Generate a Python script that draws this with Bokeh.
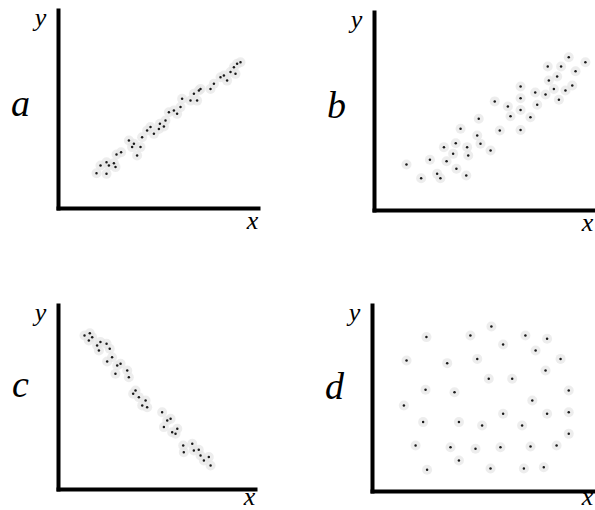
from bokeh.plotting import figure
from bokeh.layouts import row, column
from bokeh.models import Label, Range1d
from bokeh.embed import file_html
from bokeh.resources import INLINE

# ---- data (axis range 0..10) ----
panel_letters = ["a", "b", "c", "d"]
x_axis_name = "x"
y_axis_name = "y"

a_x = [1.90, 2.10, 2.40, 2.52, 2.40, 2.77, 2.90, 3.13, 2.85, 3.52, 3.68, 3.77, 3.93, 4.10,
       4.18, 4.43, 4.60, 4.77, 5.02, 5.07, 5.27, 5.35, 5.52, 5.77, 5.93, 6.10, 6.18, 6.60,
       6.77, 6.93, 7.02, 7.10, 7.60, 7.77, 8.10, 8.27, 8.43, 8.60, 8.77, 8.93, 8.85, 9.10]
a_y = [1.78, 2.17, 2.34, 2.17, 1.75, 2.29, 2.73, 2.84, 2.09, 3.43, 3.10, 3.27, 2.68, 3.10,
       3.60, 3.94, 4.11, 3.77, 4.02, 4.28, 4.14, 4.44, 4.86, 4.95, 4.78, 5.12, 5.54, 5.45,
       5.79, 5.45, 5.96, 6.04, 6.04, 6.30, 6.63, 6.72, 6.46, 6.89, 7.14, 7.31, 6.80, 7.39]

b_x = [1.46, 2.13, 2.53, 2.86, 3.01, 3.17, 3.29, 3.59, 3.74, 3.93, 3.71, 4.19, 4.23, 4.28,
       4.69, 4.76, 4.84, 5.30, 5.49, 5.72, 6.09, 6.21, 6.67, 6.67, 6.67, 6.67, 7.12, 7.34,
       7.43, 7.81, 7.91, 7.96, 8.19, 8.34, 8.42, 8.52, 8.72, 8.87, 9.03, 9.18, 9.63]
b_y = [2.32, 1.63, 2.56, 1.85, 1.63, 3.20, 2.49, 2.86, 2.11, 4.13, 3.40, 1.77, 3.20, 2.78,
       3.79, 4.63, 3.37, 3.03, 5.51, 4.04, 5.25, 4.76, 4.07, 6.26, 5.67, 5.08, 4.71, 5.96,
       5.34, 5.86, 7.27, 6.57, 6.14, 6.77, 5.59, 7.27, 6.06, 7.74, 6.31, 7.03, 7.49]

c_x = [1.32, 1.54, 1.59, 1.71, 1.96, 2.05, 2.13, 2.44, 2.60, 2.72, 2.47, 2.89, 2.98, 3.15,
       3.49, 3.57, 3.79, 3.91, 4.08, 4.25, 4.42, 4.50, 5.26, 5.35, 5.52, 5.69, 5.77, 5.94,
       6.03, 6.33, 6.36, 6.79, 6.87, 7.12, 7.21, 7.38, 7.63, 7.72]
c_y = [8.37, 8.10, 8.49, 8.28, 7.83, 7.55, 8.01, 7.92, 7.65, 7.19, 6.96, 6.29, 6.74, 6.83,
       6.47, 6.10, 5.20, 5.38, 5.02, 4.57, 4.84, 4.47, 4.20, 3.39, 3.75, 3.84, 3.11, 3.03,
       3.30, 2.39, 2.03, 2.48, 2.12, 2.16, 1.85, 1.58, 1.76, 1.30]

d_x = [2.44, 4.43, 5.38, 5.91, 6.92, 7.38, 7.90, 1.54, 3.38, 4.74, 8.51, 7.83, 5.26, 6.32,
       2.40, 3.71, 7.23, 8.88, 1.42, 2.29, 3.91, 4.96, 5.91, 6.77, 7.90, 8.88, 8.88, 1.95,
       3.53, 4.66, 5.79, 7.15, 8.33, 3.91, 2.47, 5.34, 6.85, 7.75]
d_y = [8.30, 8.39, 8.87, 7.90, 8.39, 7.58, 8.21, 7.04, 6.90, 7.13, 7.13, 6.51, 6.06, 6.06,
       5.47, 5.34, 4.89, 5.43, 4.62, 3.73, 3.73, 3.55, 4.18, 3.55, 4.18, 4.26, 3.10, 2.47,
       2.38, 2.30, 2.38, 2.42, 2.47, 1.67, 1.17, 1.24, 1.24, 1.30]

series = [(a_x, a_y), (b_x, b_y), (c_x, c_y), (d_x, d_y)]
axis_span = (0, 10)

# ---- layout: canvas size and margins around the 0..10 axis box ----
# (width, height, left, right, top, bottom)
specs = [
    (300, 275, 58, 42, 10, 67),
    (295, 275, 74, 2, 12, 65),
    (300, 235, 58, 45, 30, 21),
    (295, 235, 72, 2, 30, 19),
]
# x-label vertical offset below the x axis (screen px), per panel
xlab_offsets = [12, 12, 7, 5]

FONT = "Liberation Serif"


def make_panel(letter, xs, ys, spec, xlab_dy):
    w, h, bl, br, bt, bb = spec
    lo, hi = axis_span
    fw = w - bl - br
    fh = h - bt - bb
    ux = fw / (hi - lo)
    uy = fh / (hi - lo)
    p = figure(width=w, height=h, output_backend="svg", toolbar_location=None,
               x_range=Range1d(lo - bl / ux, hi + br / ux),
               y_range=Range1d(lo - bb / uy, hi + bt / uy),
               min_border=0)
    p.outline_line_color = None
    p.grid.visible = False
    p.background_fill_color = "white"
    p.border_fill_color = "white"
    for ax in (p.xaxis, p.yaxis):
        ax.ticker = []
        ax.fixed_location = lo
        ax.bounds = axis_span
        ax.axis_line_width = 4
        ax.axis_line_color = "black"
        ax.axis_line_cap = "square"
        ax.major_tick_line_color = None
        ax.minor_tick_line_color = None
        ax.major_tick_out = 0
        ax.major_tick_in = 0
        ax.major_label_text_font_size = "0px"
        ax.major_label_standoff = 0

    p.scatter(xs, ys, size=10, fill_color="#e6e6e6", line_color=None, fill_alpha=0.7)
    p.scatter(xs, ys, size=2.5, fill_color="#1a1a1a", line_color=None)

    p.add_layout(Label(x=bl - 18, y=bb + fh - 7, x_units="screen", y_units="screen",
                       text=y_axis_name, text_font=FONT, text_font_style="italic",
                       text_font_size="26px", text_align="center",
                       text_baseline="alphabetic", text_color="black"))
    p.add_layout(Label(x=bl + fw - 6, y=bb - xlab_dy, x_units="screen", y_units="screen",
                       text=x_axis_name, text_font=FONT, text_font_style="italic",
                       text_font_size="26px", text_align="center",
                       text_baseline="alphabetic", text_color="black"))
    p.add_layout(Label(x=bl - 38, y=bb + 106, x_units="screen", y_units="screen",
                       text=letter, text_font=FONT, text_font_style="italic",
                       text_font_size="38px", text_align="center",
                       text_baseline="alphabetic", text_color="black"))
    return p


panels = []
for i in range(4):
    panels.append(make_panel(panel_letters[i], series[i][0], series[i][1], specs[i],
                             xlab_offsets[i]))

layout = column(row(panels[0], panels[1]), row(panels[2], panels[3]))

open("out.html", "w").write(file_html(layout, INLINE))
